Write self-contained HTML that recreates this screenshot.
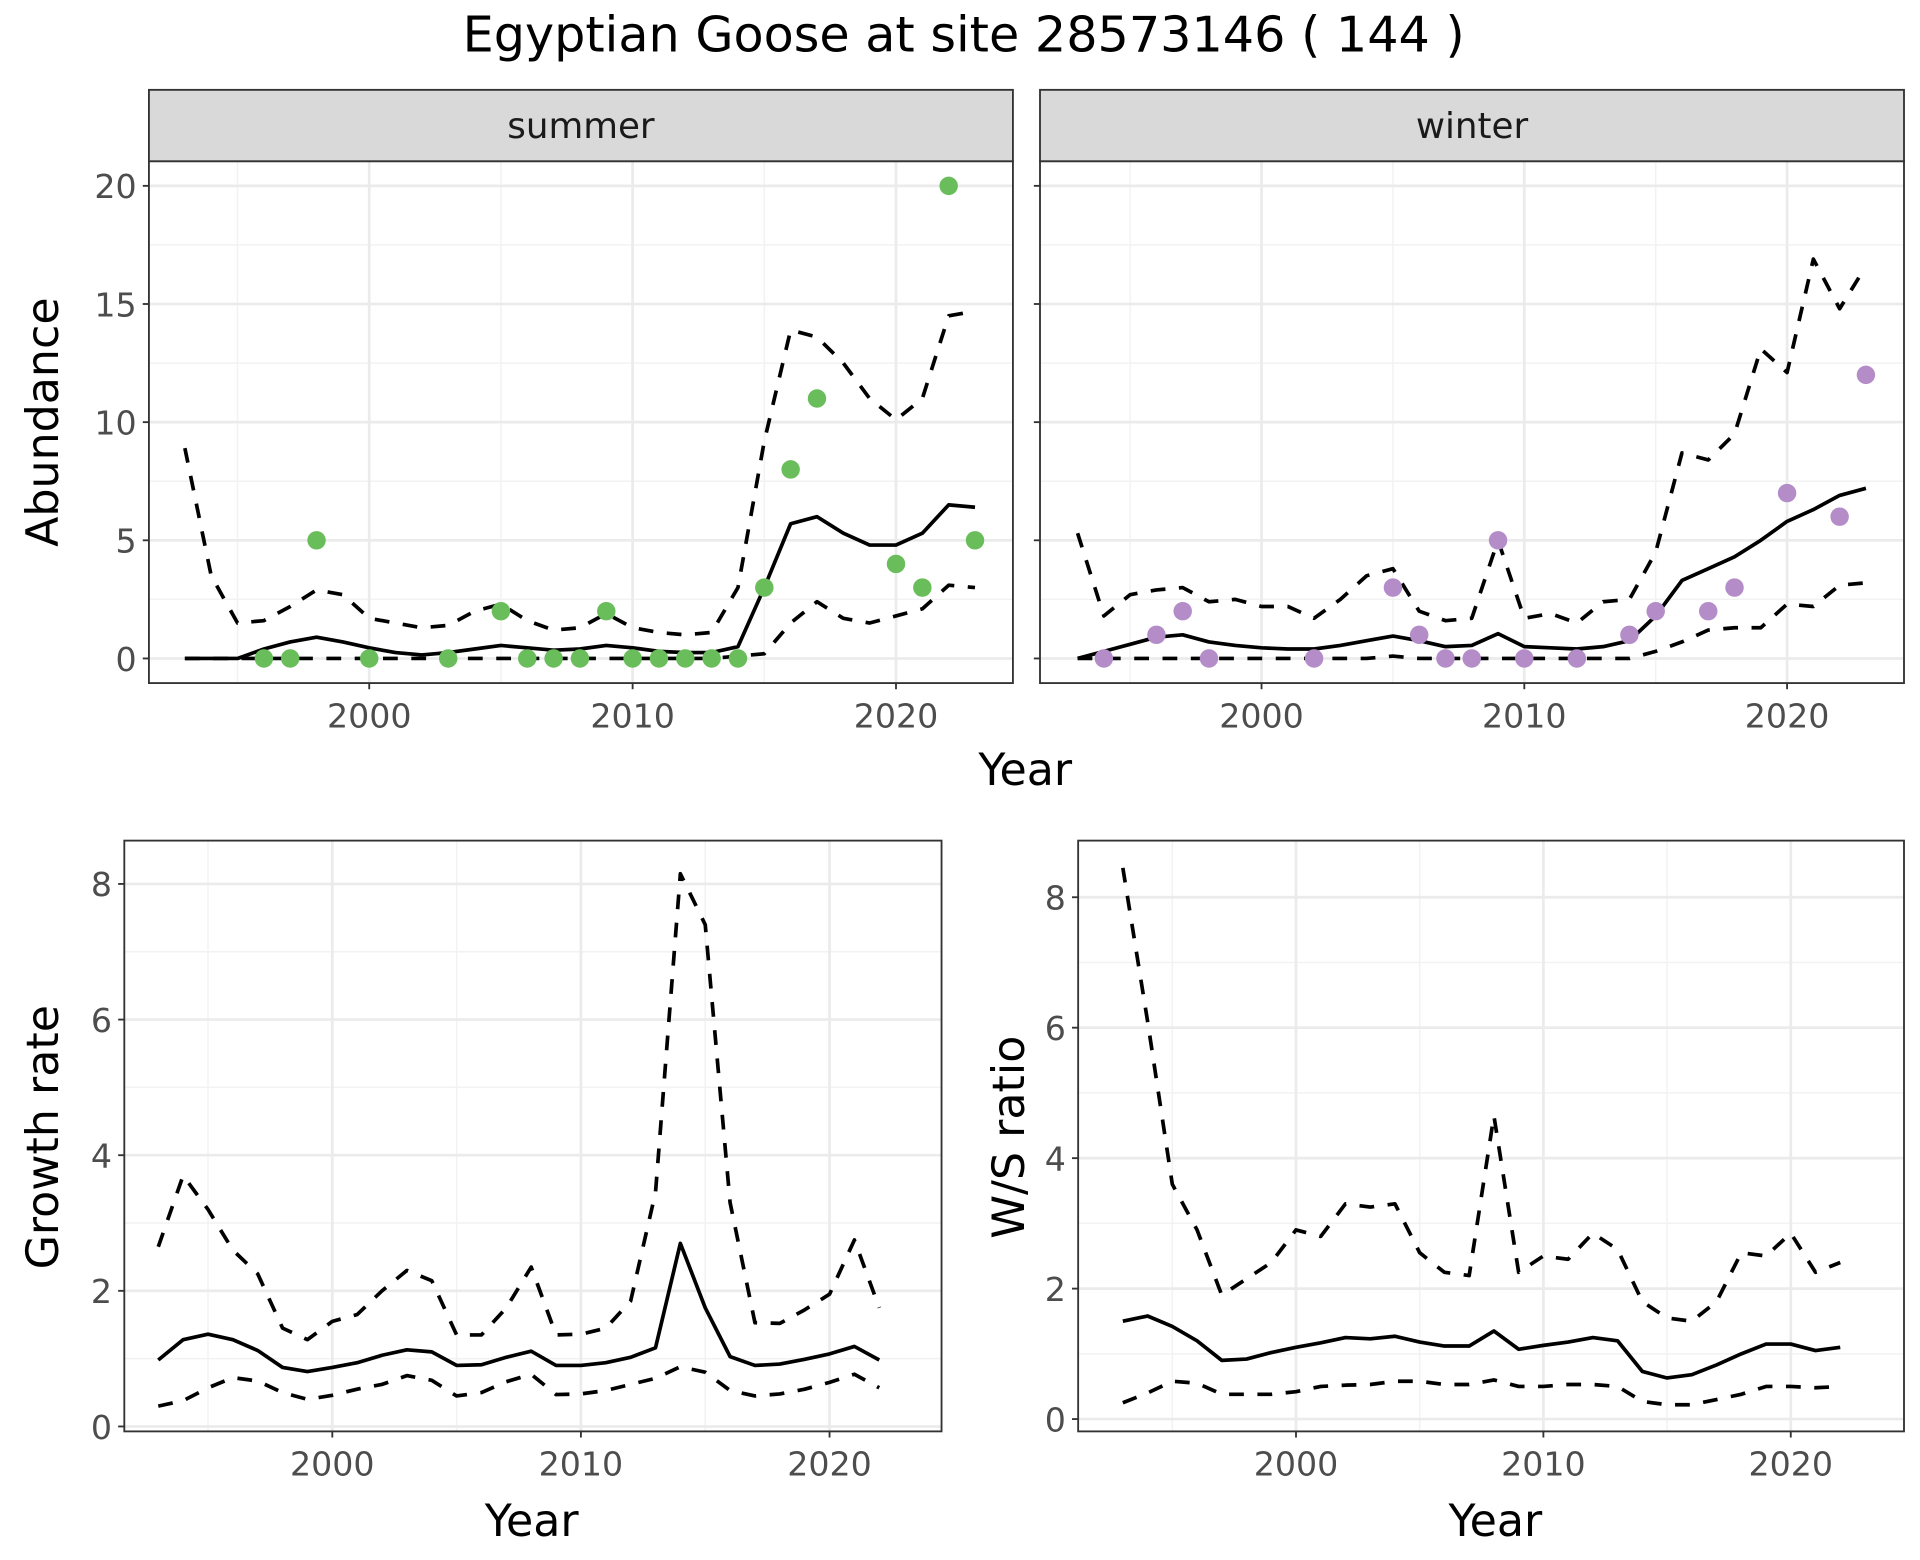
<!DOCTYPE html>
<html><head><meta charset="utf-8"><style>
html,body{margin:0;padding:0;background:#fff;}
svg{display:block;font-family:"DejaVu Sans","Liberation Sans",sans-serif;}
</style></head><body>
<svg id="chart" width="1920" height="1560" viewBox="0 0 1560 1267.5" xmlns="http://www.w3.org/2000/svg">
<text x="783" y="42" text-anchor="middle" font-size="40" fill="#000">Egyptian Goose at site 28573146 ( 144 )</text>
</svg>
<script>
const NS='http://www.w3.org/2000/svg';
const svg=document.getElementById('chart');
// ---- data ----
const yearsAbund=[1993,1994,1995,1996,1997,1998,1999,2000,2001,2002,2003,2004,2005,2006,2007,2008,2009,2010,2011,2012,2013,2014,2015,2016,2017,2018,2019,2020,2021,2022,2023];
const summerMean=[0,0,0,0.4,0.7,0.9,0.7,0.45,0.25,0.15,0.25,0.4,0.55,0.45,0.35,0.4,0.55,0.45,0.3,0.25,0.25,0.5,3.0,5.7,6.0,5.3,4.8,4.8,5.3,6.5,6.4];
const summerUpper=[8.9,3.5,1.5,1.6,2.2,2.9,2.7,1.7,1.5,1.3,1.4,2.0,2.3,1.6,1.2,1.3,1.9,1.3,1.1,1.0,1.1,3.0,9.2,13.9,13.6,12.5,11.0,10.1,11.0,14.5,14.7];
const summerLower=[0,0,0,0,0,0,0,0,0,0,0,0,0,0,0,0,0,0,0,0,0,0.1,0.2,1.5,2.4,1.7,1.5,1.8,2.1,3.1,3.0];
const summerPtYears=[1996,1997,1998,2000,2003,2005,2006,2007,2008,2009,2010,2011,2012,2013,2014,2015,2016,2017,2020,2021,2022,2023];
const summerPtValues=[0,0,5,0,0,2,0,0,0,2,0,0,0,0,0,3,8,11,4,3,20,5];
const winterMean=[0,0.3,0.6,0.9,1.0,0.7,0.55,0.45,0.4,0.4,0.55,0.75,0.95,0.75,0.5,0.55,1.05,0.5,0.45,0.4,0.5,0.75,1.8,3.3,3.8,4.3,5.0,5.8,6.3,6.9,7.2];
const winterUpper=[5.3,1.8,2.7,2.9,3.0,2.4,2.5,2.2,2.2,1.7,2.5,3.5,3.8,2.0,1.6,1.7,5.0,1.7,1.9,1.5,2.4,2.5,4.5,8.7,8.4,9.5,13.1,12.1,16.9,14.8,16.6];
const winterLower=[0,0,0,0,0,0,0,0,0,0,0,0,0.1,0,0,0,0,0,0,0,0,0,0.3,0.7,1.2,1.3,1.3,2.3,2.2,3.1,3.2];
const winterPtYears=[1994,1996,1997,1998,2002,2005,2006,2007,2008,2009,2010,2012,2014,2015,2017,2018,2020,2022,2023];
const winterPtValues=[0,1,2,0,0,3,1,0,0,5,0,0,1,2,2,3,7,6,12];
const yearsRate=[1993,1994,1995,1996,1997,1998,1999,2000,2001,2002,2003,2004,2005,2006,2007,2008,2009,2010,2011,2012,2013,2014,2015,2016,2017,2018,2019,2020,2021,2022];
const growthMean=[0.98,1.28,1.36,1.28,1.12,0.87,0.81,0.87,0.94,1.05,1.13,1.1,0.9,0.91,1.02,1.11,0.9,0.9,0.94,1.02,1.16,2.7,1.75,1.03,0.9,0.92,0.99,1.07,1.18,0.98];
const growthUpper=[2.65,3.7,3.2,2.6,2.25,1.45,1.28,1.55,1.65,2.0,2.3,2.15,1.35,1.35,1.75,2.35,1.35,1.36,1.45,1.85,3.45,8.15,7.4,3.3,1.53,1.52,1.72,1.95,2.75,1.75];
const growthLower=[0.3,0.38,0.57,0.72,0.67,0.5,0.4,0.46,0.55,0.62,0.75,0.68,0.45,0.5,0.66,0.77,0.47,0.48,0.53,0.62,0.71,0.88,0.8,0.53,0.45,0.48,0.55,0.65,0.77,0.57];
const wsMean=[1.5,1.58,1.42,1.2,0.9,0.92,1.02,1.1,1.17,1.25,1.23,1.27,1.18,1.12,1.12,1.35,1.07,1.13,1.18,1.25,1.2,0.73,0.63,0.68,0.83,1.0,1.15,1.15,1.05,1.1];
const wsUpper=[8.45,6.1,3.6,2.9,1.9,2.15,2.4,2.9,2.8,3.3,3.25,3.3,2.55,2.25,2.2,4.65,2.25,2.5,2.45,2.85,2.6,1.8,1.55,1.5,1.8,2.55,2.5,2.85,2.25,2.4];
const wsLower=[0.25,0.4,0.58,0.55,0.38,0.38,0.38,0.42,0.5,0.52,0.53,0.58,0.58,0.53,0.53,0.6,0.5,0.5,0.53,0.53,0.5,0.27,0.22,0.22,0.3,0.38,0.5,0.5,0.48,0.5];
const xTicks=[2000,2010,2020];
const xMinor=[1995,2005,2015];
const abundTicks=[0,5,10,15,20];
const rateTicks=[0,2,4,6,8];

function el(tag,attrs,parent){const e=document.createElementNS(NS,tag);for(const k in attrs)e.setAttribute(k,attrs[k]);(parent||svg).appendChild(e);return e;}

function panel(name,box,xs,ys,yTicks,showYLabels,strip){
  const g=el('g',{});
  
  
  const X=v=>xs.p0+(v-xs.v0)*xs.k, Y=v=>ys.p0-(v-ys.v0)*ys.k;
  el('rect',{x:box.x0,y:box.y0,width:box.x1-box.x0,height:box.y1-box.y0,fill:'#fff'},g);
  const clip=(v,lo,hi)=>v>=lo&&v<=hi;
  for(let i=0;i<yTicks.length-1;i++){const m=(yTicks[i]+yTicks[i+1])/2,y=Y(m);if(clip(y,box.y0,box.y1))el('line',{x1:box.x0,x2:box.x1,y1:y,y2:y,stroke:'#f2f2f2','stroke-width':1.2},g);}
  const ym=Y(yTicks[yTicks.length-1]+(yTicks[1]-yTicks[0])/2); if(clip(ym,box.y0,box.y1))el('line',{x1:box.x0,x2:box.x1,y1:ym,y2:ym,stroke:'#f2f2f2','stroke-width':1.2},g);
  xMinor.forEach(v=>{const x=X(v);el('line',{x1:x,x2:x,y1:box.y0,y2:box.y1,stroke:'#f2f2f2','stroke-width':1.2},g);});
  yTicks.forEach(v=>{const y=Y(v);el('line',{x1:box.x0,x2:box.x1,y1:y,y2:y,stroke:'#ebebeb','stroke-width':2.2},g);
    el('line',{x1:box.x0-5,x2:box.x0,y1:y,y2:y,stroke:'#333','stroke-width':1.5},g);
    if(showYLabels){const t=el('text',{x:box.x0-10,y:y+10,'text-anchor':'end','font-size':27,fill:'#4d4d4d'},g);t.textContent=v;
      
      }});
  xTicks.forEach(v=>{const x=X(v);el('line',{x1:x,x2:x,y1:box.y0,y2:box.y1,stroke:'#ebebeb','stroke-width':2.2},g);
    el('line',{x1:x,x2:x,y1:box.y1,y2:box.y1+5,stroke:'#333','stroke-width':1.5},g);
    const t=el('text',{x:x,y:box.y1+36,'text-anchor':'middle','font-size':27,fill:'#4d4d4d'},g);t.textContent=v;
    
    });
  el('rect',{x:box.x0,y:box.y0,width:box.x1-box.x0,height:box.y1-box.y0,fill:'none',stroke:'#333','stroke-width':1.5},g);
  if(strip){const s=el('rect',{x:box.x0,y:box.y0-58,width:box.x1-box.x0,height:58,fill:'#d9d9d9',stroke:'#333','stroke-width':1.5},g);
    
    
    const t=el('text',{x:(box.x0+box.x1)/2,y:box.y0-19,'text-anchor':'middle','font-size':29,fill:'#1a1a1a'},g);t.textContent=strip;
    
    }
  const line=(yrs,vals,dash,nm)=>{const p=el('polyline',{points:yrs.map((yr,i)=>X(yr)+','+Y(vals[i])).join(' '),fill:'none',stroke:'#000','stroke-width':3,'stroke-dasharray':dash?'12,11':'none','stroke-linejoin':'round'},g);
    
    };
  return {g,X,Y,line};
}

let p=panel('summer-panel',{x0:121,x1:823,y0:131,y1:555},{p0:300,v0:2000,k:21.4},{p0:535,v0:0,k:19.2},abundTicks,true,'summer');
p.line(yearsAbund,summerUpper,true,'summer-upper-line');
p.line(yearsAbund,summerLower,true,'summer-lower-line');
p.line(yearsAbund,summerMean,false,'summer-mean-line');
summerPtYears.forEach((yr,i)=>{const c=el('circle',{cx:p.X(yr),cy:p.Y(summerPtValues[i]),r:7.5,fill:'#6abd5b'},p.g);
  
  });
p=panel('winter-panel',{x0:845,x1:1547,y0:131,y1:555},{p0:1025,v0:2000,k:21.35},{p0:535,v0:0,k:19.2},abundTicks,false,'winter');
p.line(yearsAbund,winterUpper,true,'winter-upper-line');
p.line(yearsAbund,winterLower,true,'winter-lower-line');
p.line(yearsAbund,winterMean,false,'winter-mean-line');
winterPtYears.forEach((yr,i)=>{const c=el('circle',{cx:p.X(yr),cy:p.Y(winterPtValues[i]),r:7.5,fill:'#b48cc8'},p.g);
  
  });
p=panel('growth-panel',{x0:101,x1:765,y0:683,y1:1163},{p0:270,v0:2000,k:20.2},{p0:1159,v0:0,k:55.1},rateTicks,true,null);
p.line(yearsRate,growthUpper,true,'growth-upper-line');
p.line(yearsRate,growthLower,true,'growth-lower-line');
p.line(yearsRate,growthMean,false,'growth-mean-line');
p=panel('ws-ratio-panel',{x0:876,x1:1547,y0:683,y1:1163},{p0:1053,v0:2000,k:20.1},{p0:1153,v0:0,k:53},rateTicks,true,null);
p.line(yearsRate,wsUpper,true,'ws-upper-line');
p.line(yearsRate,wsLower,true,'ws-lower-line');
p.line(yearsRate,wsMean,false,'ws-mean-line');

function title(txt,x,y,rot,nm){const t=el('text',{x:x,y:y,'text-anchor':'middle','font-size':36,fill:'#000',transform:rot?`rotate(-90 ${x} ${y})`:''});t.textContent=txt;
  
  }
title('Year',833,638,false,'top-x-axis-title');
title('Abundance',47,343,true,'abundance-y-axis-title');
title('Year',432,1248,false,'growth-x-axis-title');
title('Growth rate',47,924,true,'growth-y-axis-title');
title('Year',1215,1248,false,'ws-x-axis-title');
title('W/S ratio',832,924,true,'ws-y-axis-title');
</script>
</body></html>
